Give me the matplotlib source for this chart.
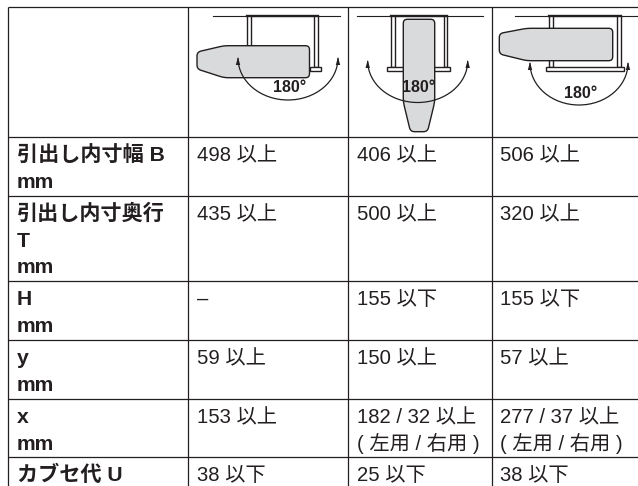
import matplotlib
matplotlib.use('Agg')
import matplotlib.pyplot as plt
import numpy as np
from matplotlib.patches import PathPatch, Polygon, Arc, Rectangle
from matplotlib.path import Path

row_labels = [['引出し内寸幅 B', 'mm'], ['引出し内寸奥行', 'T', 'mm'], ['H', 'mm'], ['y', 'mm'], ['x', 'mm'], ['カブセ代 U']]
col_a = [['498 以上'], ['435 以上'], ['–'], ['59 以上'], ['153 以上'], ['38 以下']]
col_b = [['406 以上'], ['500 以上'], ['155 以下'], ['150 以上'], ['182 / 32 以上', '( 左用 / 右用 )'], ['25 以下']]
col_c = [['506 以上'], ['320 以上'], ['155 以下'], ['57 以上'], ['277 / 37 以上', '( 左用 / 右用 )'], ['38 以下']]
angle_label = '180°'

FONT = ['Liberation Sans', 'Noto Sans CJK JP']
INK = '#231f20'
GREY = '#d9dadb'
plt.rcParams['font.family'] = FONT

fig = plt.figure(figsize=(6.38, 4.86), dpi=100)
ax = fig.add_axes([0, 0, 1, 1])
ax.set_xlim(0, 638)
ax.set_ylim(486, 0)
ax.axis('off')

col_x = [8, 188, 348, 491.5]
row_y = [7.5, 137, 196, 281, 340, 399, 457]
for x in col_x:
    ax.plot([x, x], [row_y[0], 486], color=INK, lw=0.9, solid_capstyle='butt')
for y in row_y:
    ax.plot([col_x[0], 638], [y, y], color=INK, lw=0.9, solid_capstyle='butt')

LINE = 26.6
FS_B = 15.2
FS = 14.6
for r, (lab, a, b, c) in enumerate(zip(row_labels, col_a, col_b, col_c)):
    y0 = row_y[r + 1] + 24
    for i, t in enumerate(lab):
        ax.text(17, y0 + i * LINE, t, fontsize=FS_B, fontweight='bold', color=INK, va='baseline', ha='left')
    for x, lines in ((197, a), (357, b), (500, c)):
        for i, t in enumerate(lines):
            ax.text(x, y0 + i * LINE, t, fontsize=FS, color=INK, va='baseline', ha='left')


def board(pts, rad=4):
    pts = [np.array(p, float) for p in pts]
    n = len(pts)
    verts, codes = [], []
    for i, p in enumerate(pts):
        prev, nxt = pts[i - 1], pts[(i + 1) % n]
        a = p + (prev - p) / np.linalg.norm(prev - p) * rad
        b = p + (nxt - p) / np.linalg.norm(nxt - p) * rad
        verts += [a, p, b]
        codes += [Path.MOVETO if i == 0 else Path.LINETO, Path.CURVE3, Path.CURVE3]
    verts.append(verts[0])
    codes.append(Path.CLOSEPOLY)
    ax.add_patch(PathPatch(Path(verts, codes), facecolor=GREY, edgecolor=INK, lw=1.0, zorder=3))


def bar(x0, y0, x1, y1, z=2, lw=1.0):
    ax.add_patch(Rectangle((x0, y0), x1 - x0, y1 - y0, facecolor='white', edgecolor=INK, lw=lw, zorder=z))


def swing(cx, cy, w, h):
    ax.add_patch(Arc((cx, cy), w, h, theta1=0, theta2=180, color=INK, lw=0.9, zorder=4))


def head(x, y):
    ax.add_patch(Polygon([(x, y), (x - 2.2, y + 8), (x + 2.2, y + 8)], closed=True, color=INK, lw=0, zorder=5))


def wall(x0, x1, t0, t1):
    ax.plot([x0, x1], [15.7, 15.7], color=INK, lw=0.8, zorder=2)
    ax.plot([t0, t1], [15.7, 15.7], color=INK, lw=1.7, zorder=2)


def angle(x, y):
    ax.text(x, y, angle_label, fontsize=11.5, fontweight='bold', color=INK, ha='center', va='center', zorder=6)


# panel 1
wall(213, 340, 247, 318)
bar(247, 16, 250.5, 46)
bar(314, 16, 318, 67)
bar(309.5, 66.7, 321, 71.3)
board([(197, 52), (224, 45.7), (309.5, 45.7), (309.5, 77.7), (224, 77.7), (197, 69)])
swing(288, 58, 100, 84)
head(238, 57)
head(338, 57)
angle(290, 88)

# panel 2
wall(357, 483, 391, 447)
bar(390.7, 16, 394.5, 66.7)
bar(443.5, 16, 447.3, 66.7)
bar(387.3, 66.7, 450, 71.3)
board([(403.3, 19.3), (434.7, 19.3), (434.7, 102), (427.5, 131.7), (410.5, 131.7), (403.3, 102)])
swing(417.7, 61, 100, 83)
head(367.7, 60)
head(467.7, 60)
angle(419, 88)

# panel 3
wall(515, 638, 549, 621)
bar(549, 16, 552.7, 66.7)
bar(617, 16, 621, 66.7)
bar(546, 66.7, 624, 71.3)
board([(499.3, 33.5), (526.7, 28.3), (612.7, 28.3), (612.7, 60.7), (526.7, 60.7), (499.3, 54)])
swing(579, 63, 98, 84)
head(530, 62)
head(628, 62)
angle(581, 93)

fig.savefig('out.png', dpi=100)
